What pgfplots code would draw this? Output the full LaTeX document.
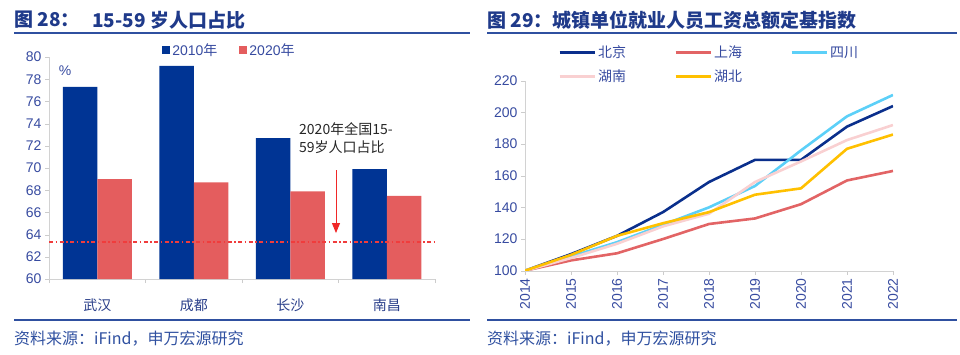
\documentclass[border=0pt]{standalone}
\usepackage{fontspec}
\setmainfont{Liberation Sans}
\newfontfamily\cjk{Noto Sans CJK SC}
\usepackage{pgfplots}
\pgfplotsset{compat=1.18}
\usetikzlibrary{arrows.meta}
\definecolor{titleblue}{HTML}{1F3A8A}
\definecolor{ruleblue}{HTML}{2F50A0}
\definecolor{tickblue}{HTML}{374BA0}
\definecolor{catblue}{HTML}{2A3F8A}
\definecolor{barA}{HTML}{003494}
\definecolor{barB}{HTML}{E45D5E}
\definecolor{redline}{RGB}{240,60,60}
\definecolor{arrowred}{HTML}{F02828}
\definecolor{cBJ}{HTML}{0A2F8C}
\definecolor{cSH}{HTML}{E26465}
\definecolor{cSC}{HTML}{5CD0F8}
\definecolor{cHN}{HTML}{F9D0D1}
\definecolor{cHB}{HTML}{FFC000}
\pgfplotsset{
  mybarlegend/.style={legend image code/.code={\fill[##1] (0pt,-4pt) rectangle (8pt,4pt);}},
}
\begin{document}
\begin{tikzpicture}[x=1pt,y=1pt]
\useasboundingbox (0,0) rectangle (960,354);
% titles
\node[anchor=west, inner sep=0, text=titleblue, font=\cjk\bfseries\fontsize{19}{22}\selectfont] at (14,334) {图 28：};
\node[anchor=west, inner sep=0, text=titleblue, font=\cjk\bfseries\fontsize{19}{22}\selectfont] at (92,334) {15-59 岁人口占比};
\node[anchor=west, inner sep=0, text=titleblue, font=\cjk\bfseries\fontsize{19}{22}\selectfont] at (487,334) {图 29：城镇单位就业人员工资总额定基指数};
\draw[ruleblue, line width=2pt] (14,321) -- (470,321);
\draw[ruleblue, line width=2pt] (487,321) -- (957,321);
\draw[ruleblue, line width=2pt] (14,34.5) -- (470,34.5);
\draw[ruleblue, line width=2pt] (487,34.5) -- (957,34.5);
\node[anchor=west, inner sep=0, text=ruleblue, font=\cjk\fontsize{16}{18}\selectfont] at (14,15) {资料来源：iFind，申万宏源研究};
\node[anchor=west, inner sep=0, text=ruleblue, font=\cjk\fontsize{16}{18}\selectfont] at (487,15) {资料来源：iFind，申万宏源研究};

% left chart
\begin{axis}[
  at={(49pt,75pt)}, anchor=south west, scale only axis,
  width=386pt, height=222pt,
  xmin=-0.5, xmax=3.5, ymin=60, ymax=80,
  axis x line*=bottom, axis y line*=left,
  axis line style={draw=gray!35, -},
  ytick={60,62,...,80},
  xtick={-0.5,0.5,1.5,2.5,3.5}, xticklabels={},
  extra x ticks={0,1,2,3},
  extra x tick labels={武汉,成都,长沙,南昌},
  extra x tick style={major tick length=0pt, xticklabel style={yshift=-16pt, font=\cjk\fontsize{14}{16}\selectfont, text=catblue}},
  tick align=outside, major tick length=4pt, tick style={draw=gray!40},
  yticklabel style={font=\fontsize{14}{16}\selectfont, text=tickblue},
  /pgf/number format/assume math mode=true,
  legend columns=2,
  legend style={at={(0.293,1.032)}, anchor=west, draw=none, fill=none, inner sep=0pt,
    font=\fontsize{14}{16}\selectfont, text=tickblue,
    /tikz/every even column/.append style={column sep=20pt}},
]
\addplot[ybar, bar width=34.5pt, bar shift=-17.25pt, fill=barA, draw=none, mybarlegend]
  coordinates {(0,77.3) (1,79.2) (2,72.7) (3,69.9)};
\addplot[ybar, bar width=34.5pt, bar shift=17.25pt, fill=barB, draw=none, mybarlegend]
  coordinates {(0,69.0) (1,68.7) (2,67.9) (3,67.5)};
\legend{2010{\cjk 年}, 2020{\cjk 年}}
\draw[draw=redline, line width=1.4pt, dash pattern=on 4pt off 2.5pt on 1.5pt off 2.5pt] (axis cs:-0.5,63.35) -- (axis cs:3.5,63.35);
\draw[arrowred, line width=0.9pt, -{Triangle[width=8pt,length=10pt]}] (axis cs:2.474,69.82) -- (axis cs:2.474,64.14);
\end{axis}
\node[text=tickblue, font=\fontsize{14}{16}\selectfont] at (65,283) {\%};
\node[anchor=west, inner sep=0, text=black!85, font=\cjk\fontsize{14}{16}\selectfont] at (299,225) {2020年全国15-};
\node[anchor=west, inner sep=0, text=black!85, font=\cjk\fontsize{14}{16}\selectfont] at (299,207) {59岁人口占比};

% right chart
\begin{axis}[
  at={(525pt,83.3pt)}, anchor=south west, scale only axis,
  width=368pt, height=190pt,
  xmin=2014, xmax=2022, ymin=100, ymax=220,
  axis x line*=bottom, axis y line*=left,
  axis line style={draw=gray!35, -},
  xtick={2014,2015,...,2022},
  ytick={100,120,...,220},
  tick align=outside, major tick length=4pt, tick style={draw=gray!40},
  xticklabel style={rotate=90, anchor=east, font=\fontsize{14}{16}\selectfont, text=tickblue, /pgf/number format/1000 sep={}},
  yticklabel style={font=\fontsize{14}{16}\selectfont, text=tickblue},
  /pgf/number format/assume math mode=true,
  legend columns=3,
  legend image code/.code={\draw[#1, line width=3pt] (0pt,0pt) -- (35pt,0pt);},
  legend style={at={(0.0897,1.085)}, anchor=west, draw=none, fill=none, inner sep=0pt,
    font=\cjk\fontsize{14}{16}\selectfont, text=tickblue, row sep=7pt,
    /tikz/every even column/.append style={column sep=46pt}},
  every axis plot/.append style={line width=2.6pt, line join=round},
]
\addplot[cBJ] coordinates {(2014,100) (2015,110.5) (2016,122) (2017,137) (2018,156) (2019,170) (2020,170) (2021,191) (2022,204)};
\addplot[cSH] coordinates {(2014,100) (2015,106.5) (2016,111) (2017,120) (2018,129.5) (2019,133) (2020,142) (2021,157) (2022,163)};
\addplot[cSC] coordinates {(2014,100) (2015,109) (2016,118) (2017,129) (2018,140) (2019,153.5) (2020,176) (2021,197.5) (2022,211)};
\addplot[cHN] coordinates {(2014,100) (2015,108) (2016,117) (2017,128) (2018,136) (2019,156) (2020,169) (2021,182.5) (2022,192)};
\addplot[cHB] coordinates {(2014,100) (2015,110) (2016,122) (2017,130) (2018,137) (2019,148) (2020,152) (2021,177) (2022,186)};
\legend{北京,上海,四川,湖南,湖北}
\end{axis}
\end{tikzpicture}
\end{document}
